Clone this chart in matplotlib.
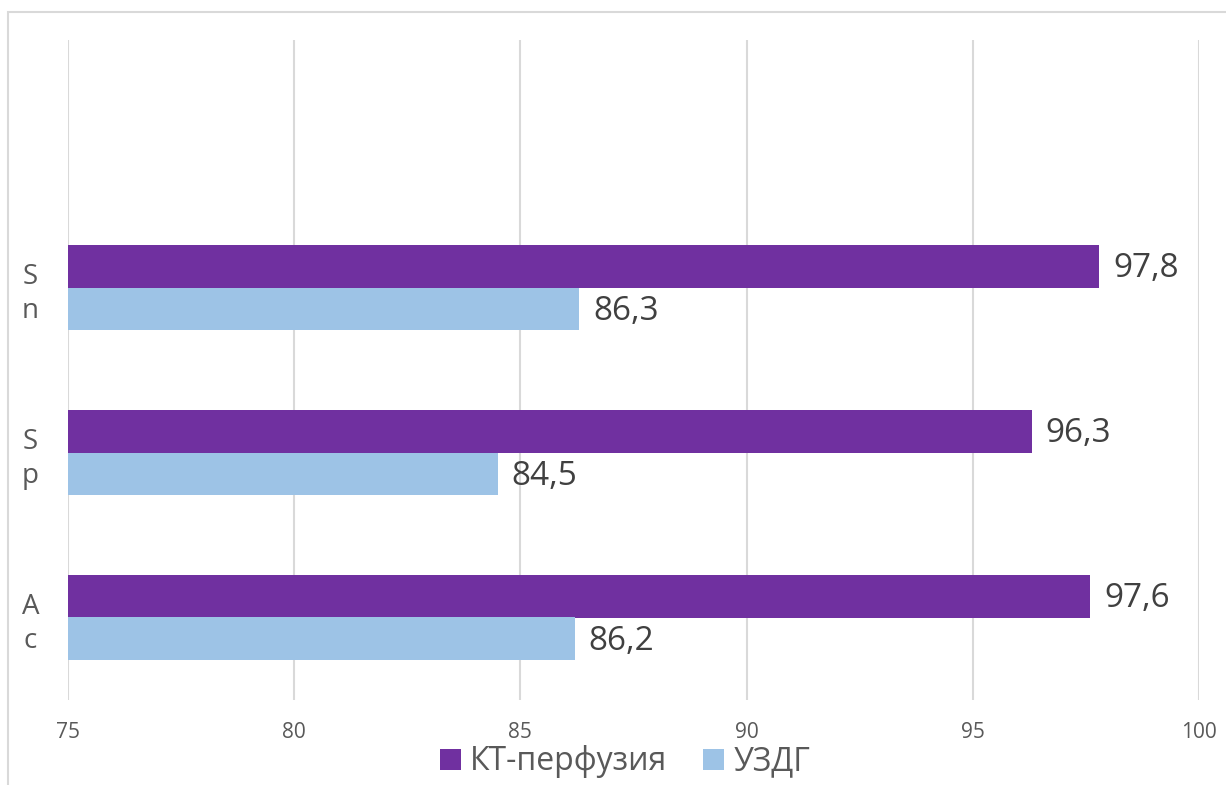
import matplotlib
matplotlib.use("Agg")
import matplotlib.pyplot as plt
from matplotlib.patches import Rectangle
import numpy as np

plt.rcParams['font.family'] = ['Open Sans', 'DejaVu Sans']

categories = ["A\nc", "S\np", "S\nn"]
series_names = ["КТ-перфузия", "УЗДГ"]
kt_values = [97.6, 96.3, 97.8]
uzdg_values = [86.2, 84.5, 86.3]
x_ticks = [75, 80, 85, 90, 95, 100]

purple = "#7030A0"
light_blue = "#9DC3E6"
grid_gray = "#D9D9D9"
text_gray = "#595959"
label_gray = "#404040"

fig = plt.figure(figsize=(12.26, 7.85), dpi=100)
ax = fig.add_axes([68 / 1226, 1 - 700 / 785, (1199 - 68) / 1226, 660 / 785])

# outer chart frame
fig.patches.append(Rectangle((8 / 1226, -0.1), 1.2, 1 - 12 / 785 + 0.1,
                             transform=fig.transFigure, fill=False,
                             edgecolor=grid_gray, linewidth=1.5))

y = np.arange(len(categories))
h = 0.258
base = 75
b1 = ax.barh(y + h / 2, np.array(kt_values) - base, left=base, height=h,
             color=purple, label=series_names[0], zorder=3)
b2 = ax.barh(y - h / 2, np.array(uzdg_values) - base, left=base, height=h,
             color=light_blue, label=series_names[1], zorder=3)

for bars, vals in ((b1, kt_values), (b2, uzdg_values)):
    for bar, v in zip(bars, vals):
        ax.annotate(f"{v:.1f}".replace(".", ","),
                    (v, bar.get_y() + bar.get_height() / 2),
                    xytext=(10, -2), textcoords="offset points",
                    ha="left", va="center", fontsize=24, color=label_gray)

ax.set_xlim(75, 100)
ax.set_ylim(-0.5, 3.5)
ax.set_xticks(x_ticks)
ax.set_xticklabels([str(t) for t in x_ticks])
ax.set_yticks(y)
ax.set_yticklabels(categories, linespacing=1.3)
ax.tick_params(axis="x", length=0, pad=16, labelsize=15, labelcolor=text_gray)
ax.tick_params(axis="y", length=0, pad=27, labelsize=20, labelcolor=text_gray)
for lbl in ax.get_yticklabels():
    lbl.set_horizontalalignment("center")

ax.grid(axis="x", color=grid_gray, linewidth=1.5, zorder=0)
for s in ax.spines.values():
    s.set_visible(False)

leg = fig.legend(handles=[b1, b2], labels=series_names, loc="center",
                 bbox_to_anchor=(625 / 1226, 1 - 762 / 785), ncol=2,
                 frameon=False, fontsize=23, handlelength=0.66,
                 handleheight=0.66, handletextpad=0.3, columnspacing=1.1,
                 borderpad=0)
for t in leg.get_texts():
    t.set_color(text_gray)

fig.savefig("out.png", dpi=100)
